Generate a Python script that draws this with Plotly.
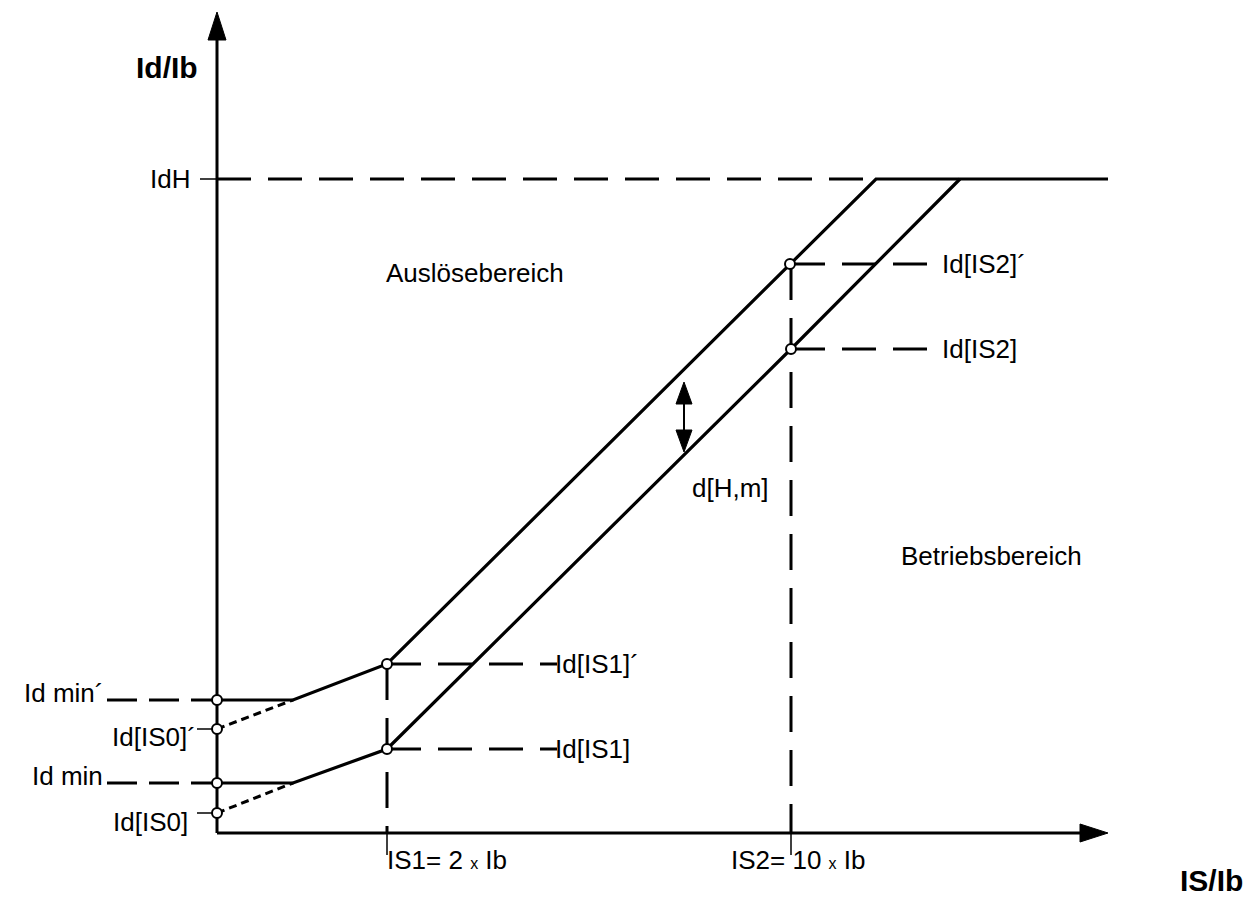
import plotly.graph_objects as go

# diagram units: origin at the axis crossing, 1 unit ~ 1 px of the picture
is1_x = 170
is2_x = 574
knee_x = 76
x_axis_end = 891
y_axis_end = 821

id_h = 654
id_min_p = 133      # Id min´
id_is0_p = 104      # Id[IS0]´
id_min = 50         # Id min
id_is0 = 20         # Id[IS0]
id_is1_p = 169      # Id[IS1]´
id_is1 = 84         # Id[IS1]
id_is2_p = 569      # Id[IS2]´
id_is2 = 484        # Id[IS2]

upper_x = [0, knee_x, is1_x, is2_x - 1, 659, x_axis_end]
upper_y = [id_min_p, id_min_p, id_is1_p, id_is2_p, id_h, id_h]
lower_x = [0, knee_x, is1_x, is2_x, 743]
lower_y = [id_min, id_min, id_is1, id_is2, id_h]

point_x = [0, 0, 0, 0, is1_x, is1_x, is2_x - 1, is2_x]
point_y = [id_min_p, id_is0_p, id_min, id_is0, id_is1_p, id_is1, id_is2_p, id_is2]

band_x = 467
band_top = 451
band_bottom = 381

FONT = "Liberation Sans, Arial, sans-serif"
BLACK = "#000000"

fig = go.Figure()


def seg(xs, ys, width=3, dash="solid"):
    fig.add_trace(go.Scatter(x=xs, y=ys, mode="lines",
                             line=dict(color=BLACK, width=width, dash=dash),
                             hoverinfo="skip", showlegend=False))


def head(tip_x, tip_y, dx, dy, length=28, half=9):
    # filled triangle pointing in direction (dx, dy)
    bx, by = tip_x - dx * length, tip_y - dy * length
    px, py = -dy * half, dx * half
    fig.add_trace(go.Scatter(x=[tip_x, bx + px, bx - px, tip_x],
                             y=[tip_y, by + py, by - py, tip_y],
                             mode="lines", fill="toself", fillcolor=BLACK,
                             line=dict(color=BLACK, width=1),
                             hoverinfo="skip", showlegend=False))


def label(text, x, y, anchor="center", size=26, bold=False):
    if bold:
        text = "<b>" + text + "</b>"
    fig.add_annotation(x=x, y=y, text=text, showarrow=False, xanchor=anchor,
                       yanchor="middle", font=dict(family=FONT, size=size, color=BLACK))


DASH = "34px,17px"

# axes
seg([0, 0], [0, y_axis_end - 20])
seg([0, x_axis_end - 20], [0, 0])
head(0, y_axis_end, 0, 1)
head(x_axis_end, 0, 1, 0)

# horizontal reference dashes
seg([0, 659], [id_h, id_h], dash=DASH)
seg([-110, 0], [id_min_p, id_min_p], dash="30px,12px")
seg([-110, 0], [id_min, id_min], dash="30px,12px")
seg([is1_x, 340], [id_is1_p, id_is1_p], dash=DASH)
seg([is1_x, 340], [id_is1, id_is1], dash=DASH)
seg([is2_x, 725], [id_is2_p, id_is2_p], dash=DASH)
seg([is2_x, 725], [id_is2, id_is2], dash=DASH)

# vertical dashes down to the x axis
seg([is1_x, is1_x], [id_is1_p, 0], dash="36px,18px")
seg([is2_x, is2_x], [id_is2_p, 0], dash="36px,18px")

# thin ticks
seg([-17, 0], [id_h, id_h], width=1.5)
seg([-20, 0], [id_is0_p, id_is0_p], width=1.5)
seg([-20, 0], [id_is0, id_is0], width=1.5)
seg([is1_x, is1_x], [0, -22], width=1.5)
seg([is2_x, is2_x], [0, -22], width=1.5)

# dotted extrapolation to Id[IS0]
seg([0, knee_x], [id_is0_p, id_min_p], dash="8px,5px")
seg([0, knee_x], [id_is0, id_min], dash="8px,5px")

# characteristic curves
seg(upper_x, upper_y, width=3.2)
seg(lower_x, lower_y, width=3.2)

# d[H,m] double arrow
seg([band_x, band_x], [band_top - 18, band_bottom + 18], width=2)
head(band_x, band_top, 0, 1, length=22, half=8)
head(band_x, band_bottom, 0, -1, length=22, half=8)

# open circles
fig.add_trace(go.Scatter(x=point_x, y=point_y, mode="markers",
                         marker=dict(size=10, color="white", line=dict(color=BLACK, width=2)),
                         hoverinfo="skip", showlegend=False))

# texts
label("Id/Ib", -50, 766, size=30, bold=True)
label("IdH", -25, id_h, anchor="right")
label("Id min´", -112, id_min_p + 7, anchor="right")
label("Id[IS0]´", -19, id_is0_p - 8, anchor="right")
label("Id min", -112, id_min + 7, anchor="right")
label("Id[IS0]", -27, id_is0 - 9, anchor="right")
label("Id[IS1]´", 336, id_is1_p, anchor="left")
label("Id[IS1]", 336, id_is1, anchor="left")
label("Id[IS2]´", 723, id_is2_p, anchor="left")
label("Id[IS2]", 723, id_is2, anchor="left")
label("Auslösebereich", 258, 560)
label("Betriebsbereich", 774, 277)
label("d[H,m]", 513, 345)
label("IS1= 2 <span style='font-size:16px'>x</span> Ib", 230, -27)
label("IS2= 10 <span style='font-size:16px'>x</span> Ib", 581, -27)
label("IS/Ib", 1028, -47, anchor="right", size=30, bold=True)

# the page puts the plot 8 px in from the top-left corner
fig.update_layout(width=1246, height=915, margin=dict(l=0, r=0, t=0, b=0),
                  plot_bgcolor="white", paper_bgcolor="white",
                  xaxis=dict(range=[-209, 1037], visible=False, fixedrange=True),
                  yaxis=dict(range=[-90, 825], visible=False, fixedrange=True))

fig.write_html("out.html")
